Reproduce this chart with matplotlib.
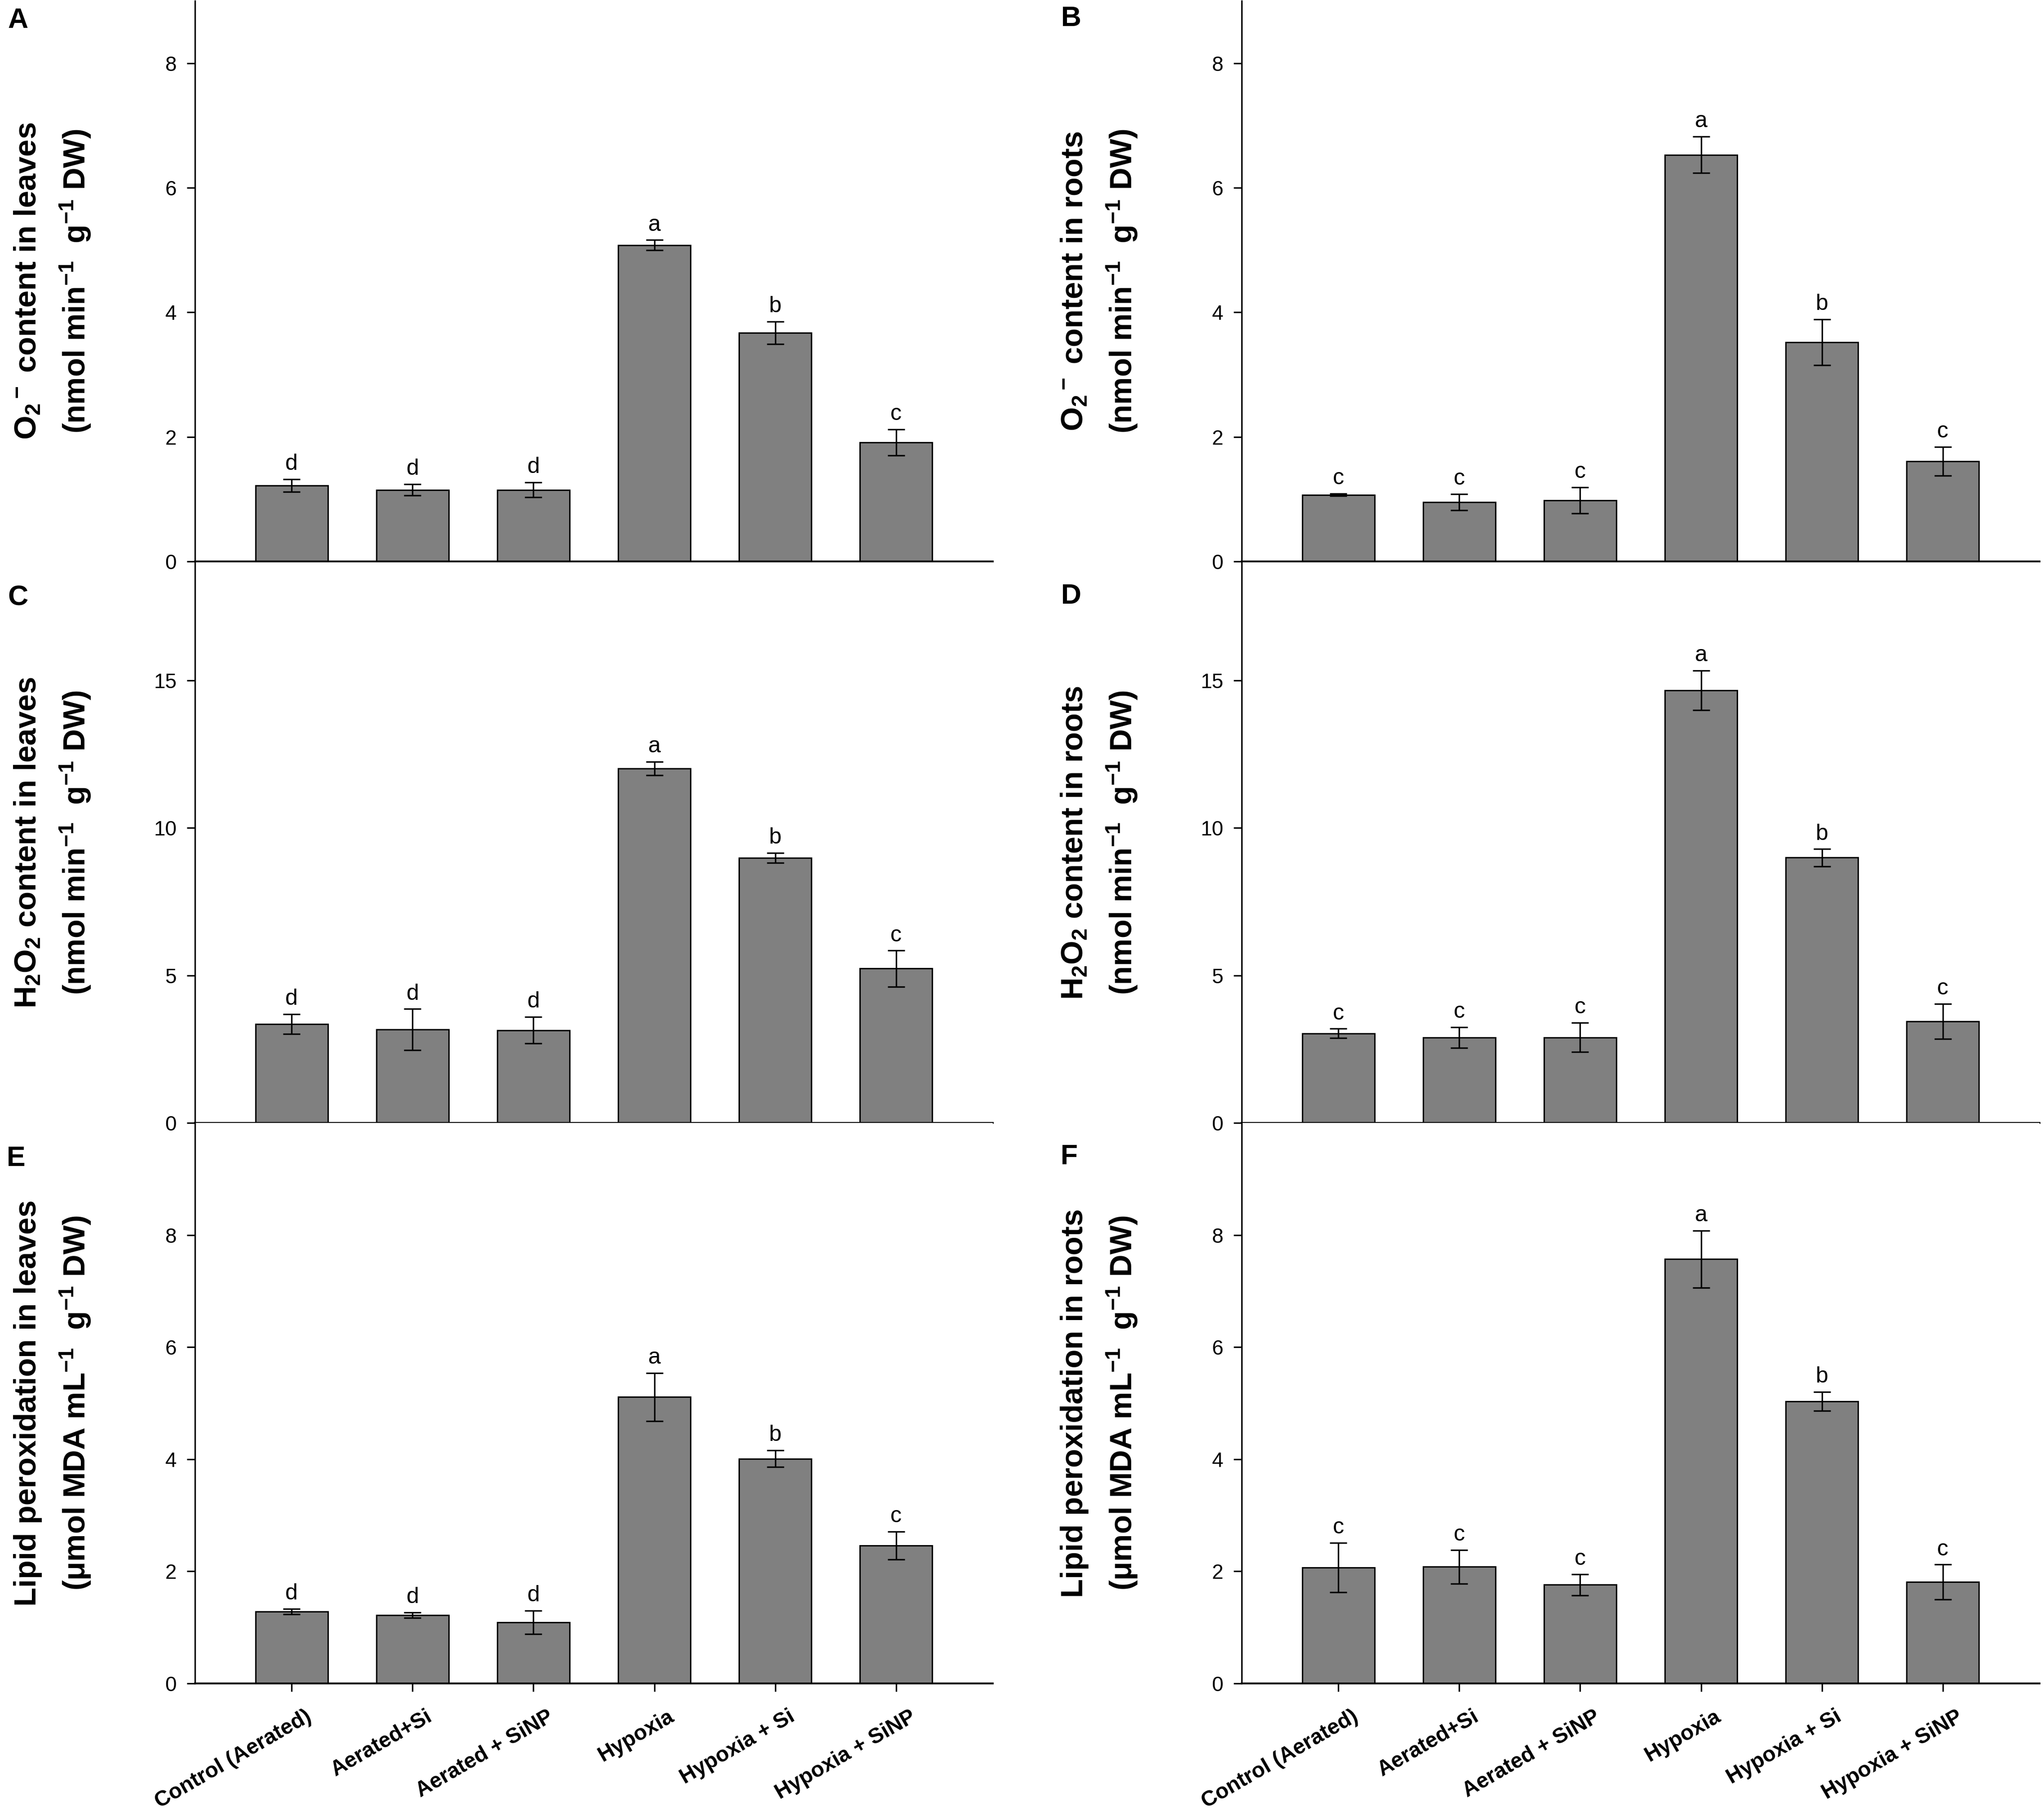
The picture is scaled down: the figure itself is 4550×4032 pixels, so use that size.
import numpy as np
import matplotlib
matplotlib.use("Agg")
import matplotlib.pyplot as plt
import matplotlib.transforms as mtransforms

plt.rcParams["font.family"] = ["Liberation Sans", "DejaVu Sans"]
plt.rcParams["mathtext.fontset"] = "custom"
plt.rcParams["mathtext.rm"] = "Liberation Sans:bold"
plt.rcParams["mathtext.it"] = "Liberation Sans:bold"
plt.rcParams["mathtext.bf"] = "Liberation Sans:bold"
plt.rcParams["mathtext.default"] = "rm"

categories = ["Control (Aerated)", "Aerated+Si", "Aerated + SiNP",
              "Hypoxia", "Hypoxia + Si", "Hypoxia + SiNP"]

o2_leaves = [1.22, 1.15, 1.15, 5.08, 3.67, 1.91]
o2_leaves_err = [0.10, 0.09, 0.12, 0.08, 0.18, 0.21]
o2_leaves_sig = ["d", "d", "d", "a", "b", "c"]

o2_roots = [1.07, 0.95, 0.98, 6.53, 3.52, 1.61]
o2_roots_err = [0.02, 0.13, 0.21, 0.29, 0.37, 0.23]
o2_roots_sig = ["c", "c", "c", "a", "b", "c"]

h2o2_leaves = [3.35, 3.16, 3.14, 12.01, 8.98, 5.23]
h2o2_leaves_err = [0.33, 0.70, 0.45, 0.23, 0.17, 0.61]
h2o2_leaves_sig = ["d", "d", "d", "a", "b", "c"]

h2o2_roots = [3.03, 2.90, 2.90, 14.66, 8.99, 3.44]
h2o2_roots_err = [0.16, 0.35, 0.50, 0.67, 0.29, 0.59]
h2o2_roots_sig = ["c", "c", "c", "a", "b", "c"]

lipid_leaves = [1.28, 1.22, 1.09, 5.11, 4.01, 2.46]
lipid_leaves_err = [0.05, 0.05, 0.21, 0.43, 0.15, 0.25]
lipid_leaves_sig = ["d", "d", "d", "a", "b", "c"]

lipid_roots = [2.07, 2.08, 1.76, 7.57, 5.03, 1.81]
lipid_roots_err = [0.44, 0.30, 0.19, 0.51, 0.17, 0.31]
lipid_roots_sig = ["c", "c", "c", "a", "b", "c"]

panels = [
    ("A", o2_leaves, o2_leaves_err, o2_leaves_sig, 9, [0, 2, 4, 6, 8],
     "O$_2$$^-$ content in leaves", "(nmol min$^{-1}$  g$^{-1}$ DW)"),
    ("B", o2_roots, o2_roots_err, o2_roots_sig, 9, [0, 2, 4, 6, 8],
     "O$_2$$^-$ content in roots", "(nmol min$^{-1}$  g$^{-1}$ DW)"),
    ("C", h2o2_leaves, h2o2_leaves_err, h2o2_leaves_sig, 19, [0, 5, 10, 15],
     "H$_2$O$_2$ content in leaves", "(nmol min$^{-1}$  g$^{-1}$ DW)"),
    ("D", h2o2_roots, h2o2_roots_err, h2o2_roots_sig, 19, [0, 5, 10, 15],
     "H$_2$O$_2$ content in roots", "(nmol min$^{-1}$  g$^{-1}$ DW)"),
    ("E", lipid_leaves, lipid_leaves_err, lipid_leaves_sig, 10, [0, 2, 4, 6, 8],
     "Lipid peroxidation in leaves", "(μmol MDA mL$^{-1}$  g$^{-1}$ DW)"),
    ("F", lipid_roots, lipid_roots_err, lipid_roots_sig, 10, [0, 2, 4, 6, 8],
     "Lipid peroxidation in roots", "(μmol MDA mL$^{-1}$  g$^{-1}$ DW)"),
]

W, H = 4550, 4032
fig = plt.figure(figsize=(W / 300, H / 300), dpi=300)

col_left = [434, 2764]
ax_w = 1776
row_bottom = [1250, 2500, 3748]
ax_h = 1248
letter_pos = [(40, 46), (2384, 41), (40, 1331), (2384, 1327), (36, 2580), (2380, 2575)]

x = np.arange(len(categories))

for k, (letter, vals, errs, sig, ytop, yt, lab1, lab2) in enumerate(panels):
    row, col = k // 2, k % 2
    left = col_left[col]
    bottom = row_bottom[row]
    ax = fig.add_axes([left / W, 1 - bottom / H, ax_w / W, ax_h / H])
    ax.bar(x, vals, width=0.6, color="#808080", edgecolor="black", linewidth=0.75, zorder=2)
    ax.errorbar(x, vals, yerr=errs, fmt="none", ecolor="black", elinewidth=0.8,
                capsize=4.5, capthick=0.8, zorder=3)
    for i in range(len(vals)):
        ax.annotate(sig[i], (x[i], vals[i] + errs[i]), xytext=(0, 5),
                    textcoords="offset points", ha="center", va="baseline", fontsize=12)
    ax.set_xlim(-0.8, 5.8)
    ax.set_ylim(0, ytop)
    ax.set_yticks(yt)
    ax.set_xticks(x)
    for s in ["top", "right"]:
        ax.spines[s].set_visible(False)
    ax.spines["left"].set_linewidth(0.8)
    ax.spines["bottom"].set_linewidth(1.0)
    ax.spines["left"].set_color("black")
    ax.spines["bottom"].set_color("black")
    ax.tick_params(axis="y", direction="out", length=4.3, width=0.8, pad=5.5, labelsize=11)
    if row == 2:
        ax.tick_params(axis="x", direction="out", length=4.3, width=0.8, pad=8)
        ax.set_xticklabels(categories, rotation=30, ha="right", va="top",
                           rotation_mode="anchor", fontsize=11.5, fontweight="bold")
        shift = mtransforms.ScaledTranslation(7 / 72, 0, fig.dpi_scale_trans)
        for lbl in ax.get_xticklabels():
            lbl.set_transform(lbl.get_transform() + shift)
    else:
        ax.tick_params(axis="x", direction="out", length=2.5, width=0.8, labelbottom=False)

    yc = 1 - (bottom - ax_h / 2) / H
    fig.text((left - 354) / W, yc, lab1, rotation=90, rotation_mode="anchor",
             ha="center", va="baseline", fontsize=16.5, fontweight="bold")
    fig.text((left - 244) / W, yc, lab2, rotation=90, rotation_mode="anchor",
             ha="center", va="baseline", fontsize=16.5, fontweight="bold")
    lx, ly = letter_pos[k]
    fig.text(lx / W, 1 - ly / H, letter, ha="center", va="center",
             fontsize=15, fontweight="bold")

fig.savefig("out.png", dpi=300)
